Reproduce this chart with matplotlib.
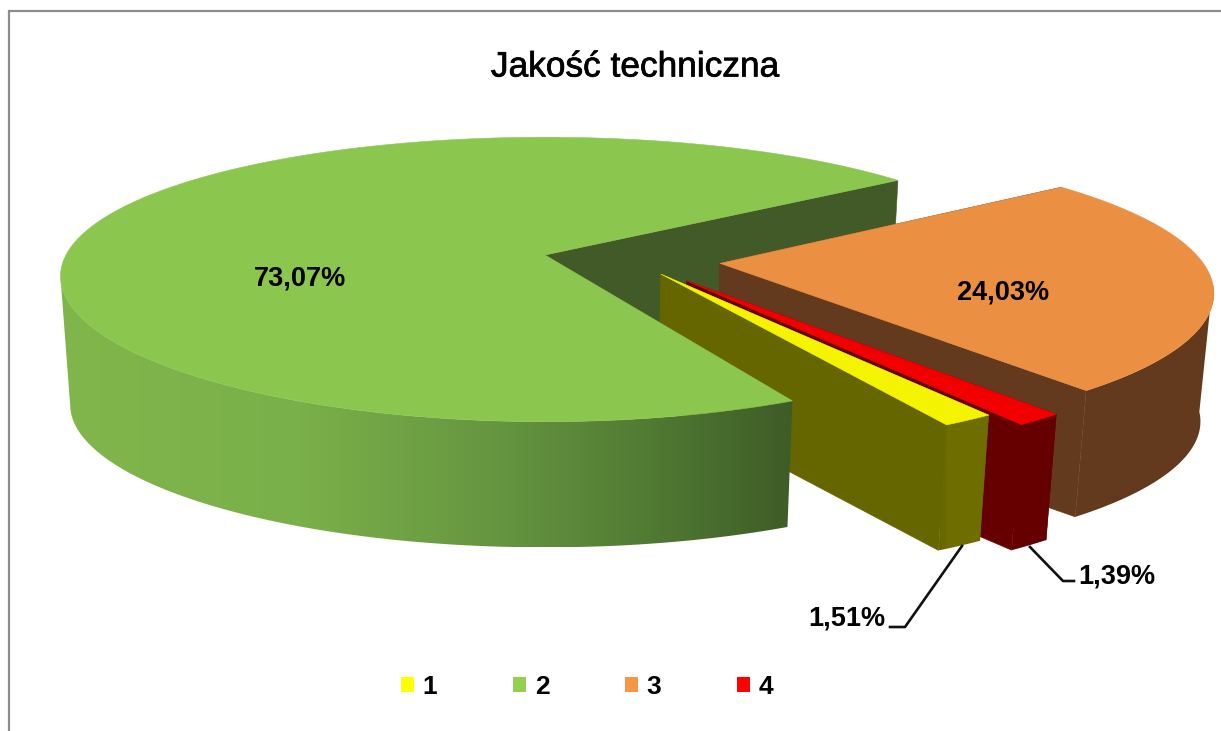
import numpy as np
import matplotlib
matplotlib.use("Agg")
import matplotlib.pyplot as plt
import matplotlib.patheffects as pe
from matplotlib.patches import Polygon, Patch
from matplotlib.colors import to_rgb

plt.rcParams['font.family'] = ['Liberation Sans', 'DejaVu Sans']

# --- data ---
categories = ['1', '2', '3', '4']
values = [1.51, 73.07, 24.03, 1.39]
title = 'Jakość techniczna'

# --- style ---
top_colors = ['#F4F400', '#8BC74F', '#EB8F43', '#F20000']
wall_colors = ['#666600', '#415A27', '#633A1E', '#660000']
legend_colors = ['#FFFF00', '#92D050', '#F79646', '#FF0000']
explode = [(0.237, -0.135), (0.0, 0.0), (0.362, -0.06), (0.288, -0.1825)]
green_cut_tweak = -1.7
back_cut_tweak = 1.4
first_angle = -56.3
CX, CY, A, B, KX, KY = 545, 255, 479, 138, 0.15, 0.172
SCALE, BOT_CY = 0.98, 384


def project(X, Y):
    X, Y = np.asarray(X, float), np.asarray(Y, float)
    return CX + A * X / (1 + KX * Y), CY - B * Y / (1 + KY * Y)


def bottom(x, y):
    return CX + SCALE * (x - CX), BOT_CY + SCALE * (y - CY)


fig = plt.figure(figsize=(12.21, 7.31), dpi=100)
ax = fig.add_axes([0, 0, 1, 1])
ax.axis('off')

z = [10]


def nz():
    z[0] += 1
    return z[0]


ax.plot([8.5, 8.5, 1221], [731, 10.5, 10.5], color='#8C8C8C', lw=1.6, solid_joinstyle='miter')

side_grad = {
    0: ([940, 950], ['#666600', '#6E6E00']),
    1: ([60, 300, 500, 650, 800], ['#80B64B', '#7AB049', '#659540', '#517A33', '#3C5A26']),
    2: ([1050, 1200], ['#633A1E', '#633A1E']),
    3: ([980, 1060], ['#660000', '#660000']),
}

angles = [first_angle]
for v in values:
    angles.append(angles[-1] - v * 3.6)
angles[2] += back_cut_tweak
angles[1] += green_cut_tweak


def rim(i, t0, t1):
    ex, ey = explode[i]
    th = np.radians(np.linspace(t0, t1, 400))
    return project(ex + np.cos(th), ey + np.sin(th))


def inner_wall(i, t):
    ex, ey = explode[i]
    x, y = rim(i, t, t - 1)
    x, y = x[0], y[0]
    x0, y0 = project(ex, ey)
    bx, by = bottom(x, y)
    bx0, by0 = bottom(x0, y0)
    ax.add_patch(Polygon([(x0, y0), (x, y), (bx, by), (bx0, by0)],
                         fc=wall_colors[i], ec=wall_colors[i], lw=0.4, zorder=nz()))


def outer_wall(i, t0, t1):
    xr, yr = rim(i, t0, t1)
    bx, by = bottom(xr, yr)
    pts = np.vstack([np.column_stack([xr, yr]), np.column_stack([bx, by])[::-1]])
    xs, stops = side_grad[i]
    rgb = np.array([to_rgb(c) for c in stops])
    xmin, xmax = pts[:, 0].min(), pts[:, 0].max()
    grid = np.linspace(xmin, xmax, 600)
    img = np.stack([np.interp(grid, xs, rgb[:, k]) for k in range(3)], axis=-1)[None, :, :]
    im = ax.imshow(img, extent=[xmin, xmax, pts[:, 1].max(), pts[:, 1].min()], aspect='auto', zorder=nz(),
                   interpolation='bilinear')
    clip = Polygon(pts, transform=ax.transData, fc='none', ec='none')
    ax.add_patch(clip)
    im.set_clip_path(clip)


def top_face(i, t0, t1):
    ex, ey = explode[i]
    xr, yr = rim(i, t0, t1)
    x0, y0 = project(ex, ey)
    ax.add_patch(Polygon(np.vstack([[x0, y0], np.column_stack([xr, yr])]),
                         fc=top_colors[i], ec=top_colors[i], lw=0.4, zorder=nz()))


visible_wall_start = {0: first_angle - values[0] * 0 + 0, 2: -368, 3: angles[3]}
yellow_start = first_angle
yellow_end = first_angle - values[0] * 3.6

# back wall of the big slice lies behind the exploded ones
inner_wall(1, angles[2])
# orange, then red, then yellow
for i, t0, t1, ts in ((2, angles[2], angles[3], -368),
                      (3, angles[3], angles[4], angles[3]),
                      (0, yellow_start, yellow_end, yellow_start)):
    inner_wall(i, t1)
    inner_wall(i, t0)
    outer_wall(i, ts, t1)
    top_face(i, t0, t1)
# big slice stands in front of the yellow wall
outer_wall(1, angles[1], -171)
top_face(1, angles[1], angles[2])

ax.set_xlim(0, 1221)
ax.set_ylim(731, 0)

ax.text(635, 67, title, ha='center', va='center', fontsize=25.4, color='black', zorder=100,
        path_effects=[pe.withStroke(linewidth=0.5, foreground='black')])


def fmt(v):
    return f'{v:.2f}'.replace('.', ',') + '%'


label_pos = [(847, 619), (300, 279), (1003, 292), (1117, 577)]
for v, (x, y) in zip(values, label_pos):
    ax.text(x, y, fmt(v), ha='center', va='center', fontsize=19.5, fontweight='bold', color='black', zorder=100)

ax.plot([962, 905, 890], [546, 627, 627], color='#111111', lw=1.9, zorder=99)
ax.plot([1030, 1063, 1074], [547, 581, 581], color='#111111', lw=1.9, zorder=99)

handles = [Patch(fc=c, ec='none', label=l) for c, l in zip(legend_colors, categories)]
leg = ax.legend(handles=handles, ncol=4, frameon=False, loc='center', bbox_to_anchor=(587 / 1221, 1 - 687 / 731),
                prop={'size': 19, 'weight': 'bold'}, handlelength=0.5, handleheight=0.5,
                handletextpad=0.34, columnspacing=2.85, borderpad=0)
leg.set_zorder(100)

fig.savefig('out.png', dpi=100)
